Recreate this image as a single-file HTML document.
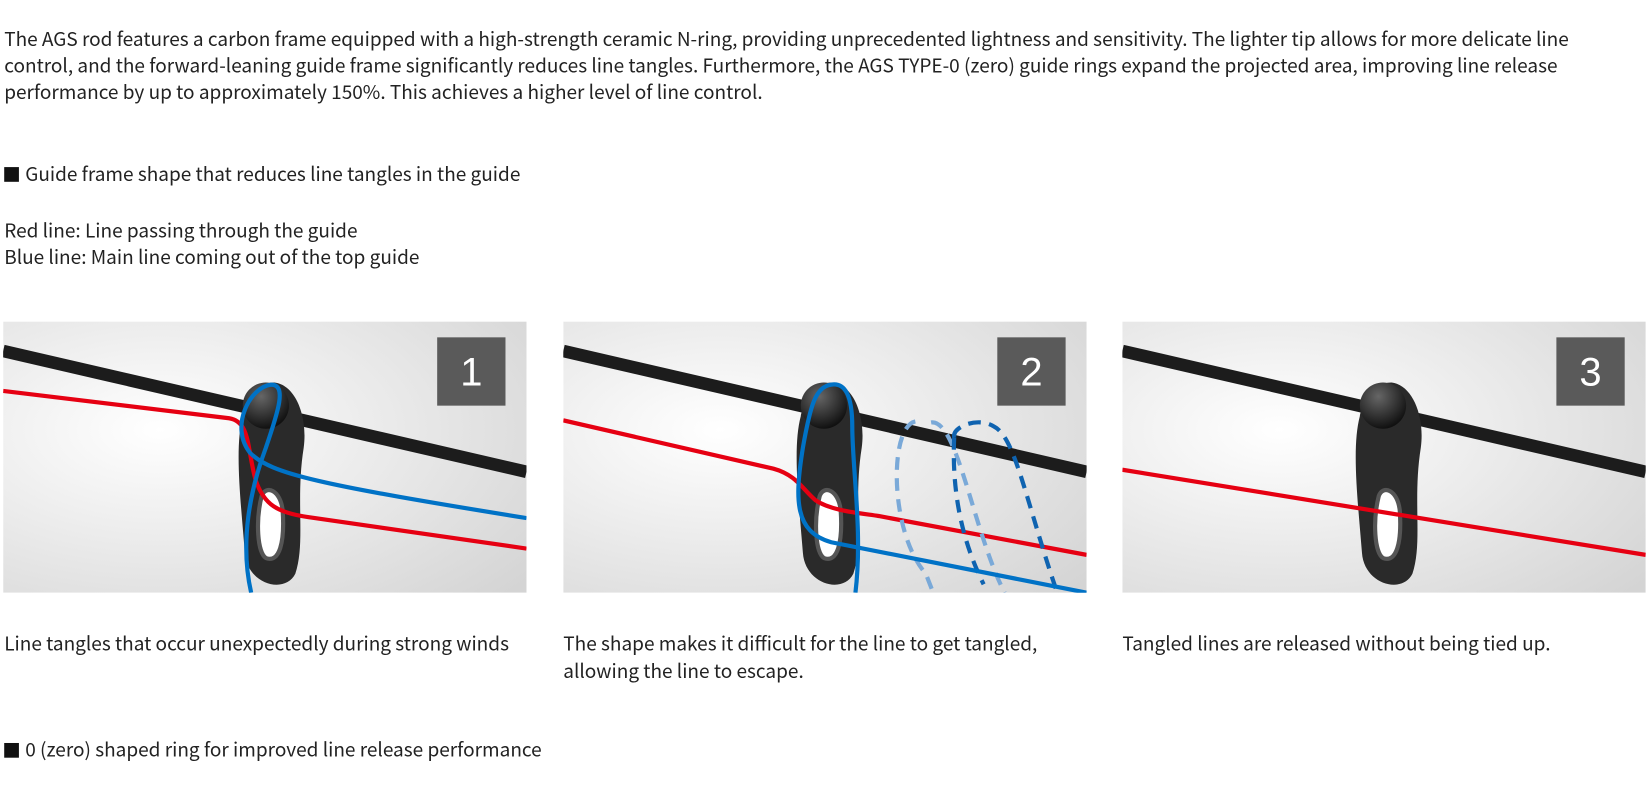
<!DOCTYPE html>
<html><head><meta charset="utf-8"><style>
body{margin:0;width:1648px;height:797px;background:#fff;overflow:hidden}
#w{position:absolute;left:0;top:0;width:1568px;height:758px;transform:scale(1.0509);transform-origin:0 0;font-family:"Noto Sans CJK JP","Liberation Sans",sans-serif;color:#222;font-size:18.1px}
.t{position:absolute;left:4px;line-height:25px;white-space:nowrap}
.p{position:absolute;top:306px;width:498px;height:258px}
.c{position:absolute;top:599px;line-height:26px;white-space:nowrap}
.sq{display:inline-block;width:14px;height:14px;background:#111;margin-right:6px;vertical-align:-1px}
</style></head><body><div id="w">
<div class="t" style="top:25px">The AGS rod features a carbon frame equipped with a high-strength ceramic N-ring, providing unprecedented lightness and sensitivity. The lighter tip allows for more delicate line<br>control, and the forward-leaning guide frame significantly reduces line tangles. Furthermore, the AGS TYPE-0 (zero) guide rings expand the projected area, improving line release<br>performance by up to approximately 150%. This achieves a higher level of line control.</div>
<div class="t" style="top:153px"><span class="sq"></span>Guide frame shape that reduces line tangles in the guide</div>
<div class="t" style="top:207px">Red line: Line passing through the guide<br>Blue line: Main line coming out of the top guide</div>

<svg width="0" height="0" style="position:absolute"><defs>
<radialGradient id="bg" cx="0.3" cy="0.4" r="0.9"><stop offset="0" stop-color="#fff"/><stop offset="1" stop-color="#d4d4d4"/></radialGradient>
<radialGradient id="ball" cx="0.4" cy="0.3" r="0.7"><stop offset="0" stop-color="#666"/><stop offset="1" stop-color="#111"/></radialGradient>
<g id="guide">
<path d="M-30,10 C-38,40 -32,90 -28,140 C-26,170 10,180 20,160 C30,130 20,90 28,40 C32,10 20,-20 0,-22 C-20,-22 -28,0 -30,10Z" fill="#2a2a2a"/>
<path d="M-12,86 C-18,110 -16,140 -8,145 C5,150 10,130 8,100 C6,80 -8,75 -12,86Z" fill="#fff" stroke="#555" stroke-width="4"/>
<circle cx="-8" cy="0" r="22" fill="url(#ball)"/>
</g>
<g id="rod"><line x1="0" y1="28" x2="498" y2="143" stroke="#1c1c1c" stroke-width="12"/></g>
</defs></svg>

<svg class="p" style="left:3px" viewBox="0 0 498 258">
<rect width="498" height="258" fill="url(#bg)"/>
<use href="#rod"/><use href="#guide" x="258" y="80"/>
<path d="M0,66 L215,92 C235,95 232,120 240,150 C248,175 262,182 290,186 L498,216" fill="none" stroke="#e60012" stroke-width="4"/>
<path d="M236,258 C225,210 235,160 250,120 C262,85 270,60 255,60 C235,62 215,100 235,125 C255,145 300,155 498,187" fill="none" stroke="#0072c6" stroke-width="4"/>
<rect x="413" y="15" width="65" height="65" fill="#5a5a5a"/>
<text x="445.5" y="61" font-size="38" fill="#fff" text-anchor="middle" font-family="Liberation Sans,sans-serif">1</text>
</svg>

<svg class="p" style="left:536px" viewBox="0 0 498 258">
<rect width="498" height="258" fill="url(#bg)"/>
<use href="#rod"/><use href="#guide" x="256" y="80"/>
<path d="M0,94 L200,140 C222,146 228,160 240,170 C255,180 280,182 300,185 L498,222" fill="none" stroke="#e60012" stroke-width="4"/>
<path d="M335,95 C310,100 310,200 345,240 L352,258 M350,96 C375,92 390,200 420,258" fill="none" stroke="#7aa9d8" stroke-width="4" stroke-dasharray="12,8"/>
<path d="M372,110 C370,100 395,90 410,100 C430,110 440,170 470,258 M372,110 C370,150 375,200 400,250" fill="none" stroke="#0f63b0" stroke-width="4" stroke-dasharray="12,8"/>
<path d="M278,258 C285,200 275,140 275,100 C275,70 268,58 255,60 C240,62 235,80 228,120 C220,170 220,200 255,210 L498,258" fill="none" stroke="#0072c6" stroke-width="4"/>
<rect x="413" y="15" width="65" height="65" fill="#5a5a5a"/>
<text x="445.5" y="61" font-size="38" fill="#fff" text-anchor="middle" font-family="Liberation Sans,sans-serif">2</text>
</svg>

<svg class="p" style="left:1068px" viewBox="0 0 498 258">
<rect width="498" height="258" fill="url(#bg)"/>
<use href="#rod"/><use href="#guide" x="256" y="80"/>
<line x1="0" y1="141" x2="498" y2="222" stroke="#e60012" stroke-width="4"/>
<rect x="413" y="15" width="65" height="65" fill="#5a5a5a"/>
<text x="445.5" y="61" font-size="38" fill="#fff" text-anchor="middle" font-family="Liberation Sans,sans-serif">3</text>
</svg>

<div class="c" style="left:4px">Line tangles that occur unexpectedly during strong winds</div>
<div class="c" style="left:536px">The shape makes it difficult for the line to get tangled,<br>allowing the line to escape.</div>
<div class="c" style="left:1068px">Tangled lines are released without being tied up.</div>
<div class="t" style="top:701px"><span class="sq"></span>0 (zero) shaped ring for improved line release performance</div>
</div></body></html>
